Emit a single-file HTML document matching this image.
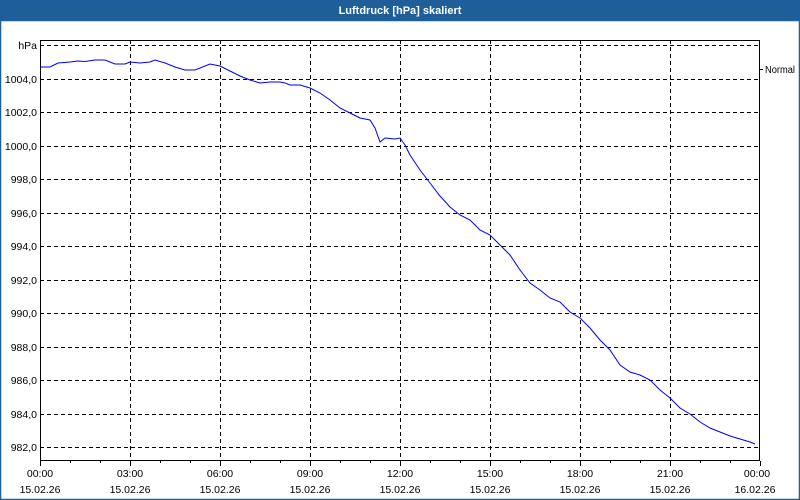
<!DOCTYPE html>
<html><head><meta charset="utf-8"><style>
html,body{margin:0;padding:0;width:800px;height:500px;overflow:hidden;background:#fff}
</style></head><body>
<svg width="800" height="500" xmlns="http://www.w3.org/2000/svg" font-family="Liberation Sans, sans-serif" font-size="10.5">
<rect x="0" y="0" width="800" height="500" fill="#fff"/>
<rect x="0" y="0" width="800" height="21" fill="#1e5f99"/>
<rect x="0.5" y="20.5" width="799" height="479" fill="none" stroke="#1e5f99" stroke-width="1.5"/>
<text x="400" y="14" fill="#fff" font-weight="bold" text-anchor="middle" font-size="11">Luftdruck [hPa] skaliert</text>
<g stroke="#000" stroke-width="1" stroke-dasharray="4,3" fill="none">
<path d="M40 45.5H760M40 79.5H760M40 112.5H760M40 146.5H760M40 179.5H760M40 213.5H760M40 246.5H760M40 280.5H760M40 313.5H760M40 347.5H760M40 380.5H760M40 414.5H760M40 447.5H760"/>
<path d="M130.5 40V460M220.5 40V460M310.5 40V460M400.5 40V460M490.5 40V460M580.5 40V460M670.5 40V460"/>
</g>
<rect x="40.5" y="40.5" width="719" height="420" fill="none" stroke="#000"/>
<g stroke="#000">
<path d="M40.5 461V466M70.5 461V463M100.5 461V463M130.5 461V466M160.5 461V463M190.5 461V463M220.5 461V466M250.5 461V463M280.5 461V463M310.5 461V466M340.5 461V463M370.5 461V463M400.5 461V466M430.5 461V463M460.5 461V463M490.5 461V466M520.5 461V463M550.5 461V463M580.5 461V466M610.5 461V463M640.5 461V463M670.5 461V466M700.5 461V463M730.5 461V463M760.5 461V466"/>
<path d="M760 69.5H763"/>
</g>
<polyline fill="none" stroke="#0000ee" stroke-width="1" points="40,67 50,67 58,63 70,62 78,61 85,61.5 95,60 105,60 115,64 125,64 130,62 140,63 150,62 155,60 165,63 175,67 185,70 195,70 210,64 220,66 230,71 240,76 250,80 260,83 270,82 280,82 285,83 290,85 300,85 310,88 320,93 330,100 340,108 350,113 360,118 370,120 375,128 380,142 385,138 395,139 400,138 405,145 410,155 420,170 430,183 440,196 450,207 460,215 470,220 480,230 490,235 500,245 510,255 520,270 530,283 540,290 550,298 560,302 570,312 580,318 590,328 600,340 610,350 620,365 630,372 640,375 650,380 660,390 670,398 680,408 690,414 700,422 710,428 720,432 730,436 740,439 750,442 755,444"/>
<g text-anchor="end" fill="#000">
<text x="37" y="49">hPa</text>
<text x="37" y="83">1004,0</text>
<text x="37" y="116">1002,0</text>
<text x="37" y="150">1000,0</text>
<text x="37" y="183">998,0</text>
<text x="37" y="217">996,0</text>
<text x="37" y="250">994,0</text>
<text x="37" y="284">992,0</text>
<text x="37" y="317">990,0</text>
<text x="37" y="351">988,0</text>
<text x="37" y="384">986,0</text>
<text x="37" y="418">984,0</text>
<text x="37" y="451">982,0</text>
</g>
<text x="765" y="73" fill="#000" font-size="10" textLength="30" lengthAdjust="spacingAndGlyphs">Normal</text>
<g text-anchor="middle" fill="#000">
<text x="40" y="477">00:00</text><text x="40" y="493">15.02.26</text>
<text x="130" y="477">03:00</text><text x="130" y="493">15.02.26</text>
<text x="220" y="477">06:00</text><text x="220" y="493">15.02.26</text>
<text x="310" y="477">09:00</text><text x="310" y="493">15.02.26</text>
<text x="400" y="477">12:00</text><text x="400" y="493">15.02.26</text>
<text x="490" y="477">15:00</text><text x="490" y="493">15.02.26</text>
<text x="580" y="477">18:00</text><text x="580" y="493">15.02.26</text>
<text x="670" y="477">21:00</text><text x="670" y="493">15.02.26</text>
<text x="757" y="477">00:00</text><text x="755" y="493">16.02.26</text>
</g>
</svg>
</body></html>
